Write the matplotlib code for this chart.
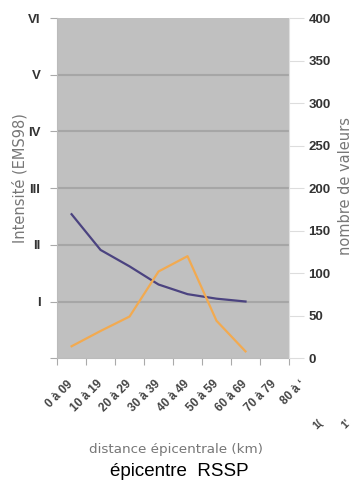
import matplotlib.pyplot as plt

# distance classes (km)
categories = ['0 à 09', '10 à 19', '20 à 29', '30 à 39', '40 à 49',
              '50 à 59', '60 à 69', '70 à 79', '80 à ʻ']
# mean intensity (EMS98) per class
intensity = [2.54, 1.91, 1.62, 1.30, 1.13, 1.05, 1.00]
# number of observations per class
counts = [14, 32, 49, 102, 120, 44, 8]
roman = ['', 'I', 'II', 'III', 'IV', 'V', 'VI']

tick_font = ['Liberation Sans', 'DejaVu Sans']

fig = plt.figure(figsize=(3.59, 4.90), dpi=100)
ax = fig.add_axes([0.159, 0.269, 0.646, 0.694])
ax.set_facecolor('#c0c0c0')

x = [i + 0.5 for i in range(len(intensity))]
ax.plot(x, intensity, color='#4b4380', lw=1.6, zorder=3)
ax.set_xlim(0, 8)
ax.set_ylim(0, 6)

# horizontal grid at each intensity level
for lvl in range(1, 6):
    ax.axhline(lvl, color='#a6a6a6', lw=1.5, zorder=1)

ax.set_yticks(range(7))
ax.set_yticklabels(roman, fontsize=9.5, fontweight='bold', color='#333333',
                   family=tick_font)
ax.tick_params(axis='y', length=5, color='#aaaaaa', pad=7)
ax.set_xticks(range(9))
ax.set_xticklabels([])
ax.tick_params(axis='x', length=5, color='#aaaaaa', direction='out')

for s in ['top', 'right']:
    ax.spines[s].set_visible(False)
for s in ['left', 'bottom']:
    ax.spines[s].set_color('#bbbbbb')

for i, lab in enumerate(categories):
    ax.text(i + 0.35, -0.059, lab, transform=ax.get_xaxis_transform(),
            rotation=45, rotation_mode='anchor', ha='right', va='top',
            fontsize=8.5, fontweight='bold', color='#444444', family=tick_font)
# clipped labels beyond the axis
for xx, lab in [(9.0, '1('), (9.95, "1'")]:
    ax.text(xx, -0.175, lab, transform=ax.get_xaxis_transform(),
            rotation=45, rotation_mode='anchor', ha='right', va='top',
            fontsize=7.5, fontweight='bold', color='#444444', family=tick_font,
            clip_on=False)

ax2 = ax.twinx()
ax2.plot(x, counts, color='#f2aa50', lw=1.6, zorder=3)
ax2.set_ylim(0, 400)
ax2.set_yticks(range(0, 401, 50))
ax2.set_yticklabels([str(v) for v in range(0, 401, 50)], fontsize=9.5,
                    fontweight='bold', color='#333333', family=tick_font)
ax2.tick_params(axis='y', length=11, color='#dddddd', pad=3)
for s in ['top', 'left', 'bottom']:
    ax2.spines[s].set_visible(False)
ax2.spines['right'].set_color('#e0e0e0')

fig.text(0.056, 0.637, 'Intensité (EMS98)', rotation=90, ha='center',
         va='center', fontsize=10.5, color='#777777')
fig.text(0.962, 0.62, 'nombre de valeurs', rotation=90, ha='center',
         va='center', fontsize=10.5, color='#777777')
fig.text(0.49, 0.082, 'distance épicentrale (km)', ha='center', va='center',
         fontsize=9.7, color='#777777')
fig.text(0.50, 0.037, 'épicentre  RSSP', ha='center', va='center',
         fontsize=13.5, color='black', family='Liberation Sans')

fig.savefig('out.png', dpi=100)
